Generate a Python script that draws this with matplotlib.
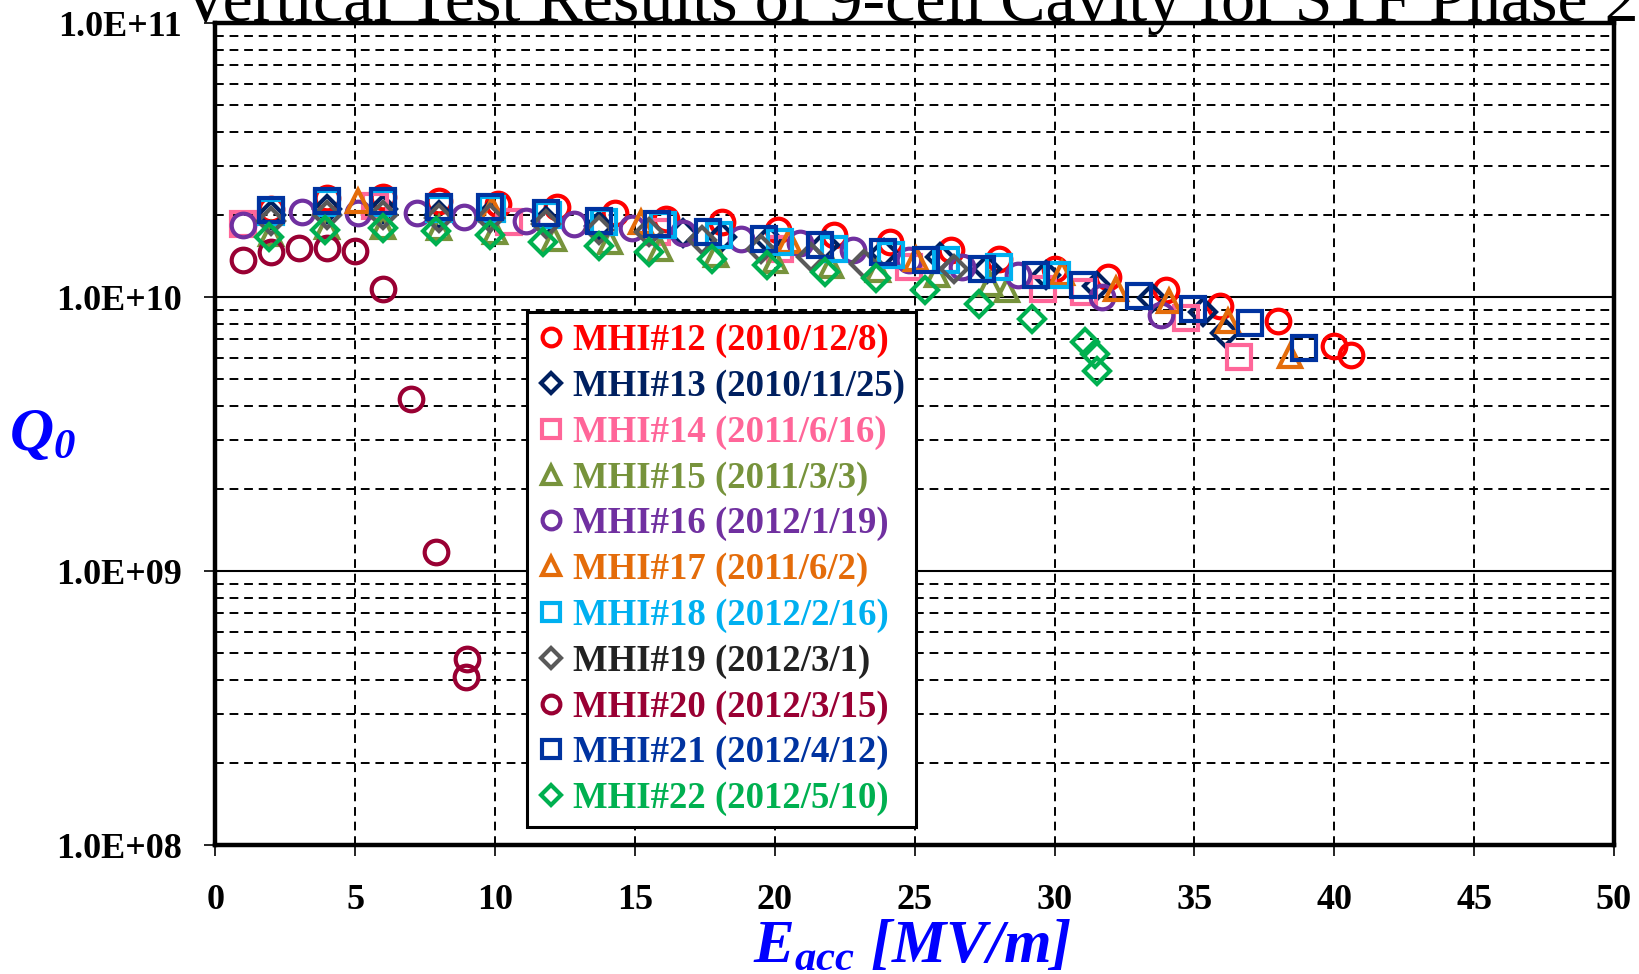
import matplotlib
matplotlib.use("Agg")
import matplotlib.pyplot as plt
from matplotlib.ticker import FixedLocator, LogLocator, NullFormatter

plt.rcParams['mathtext.fontset'] = 'custom'
plt.rcParams['mathtext.rm'] = 'Liberation Serif:italic:bold'
plt.rcParams['mathtext.it'] = 'Liberation Serif:italic:bold'
plt.rcParams['mathtext.bf'] = 'Liberation Serif:italic:bold'

labels = ["MHI#12 (2010/12/8)", "MHI#13 (2010/11/25)", "MHI#14 (2011/6/16)",
          "MHI#15 (2011/3/3)", "MHI#16 (2012/1/19)", "MHI#17 (2011/6/2)",
          "MHI#18 (2012/2/16)", "MHI#19 (2012/3/1)", "MHI#20 (2012/3/15)",
          "MHI#21 (2012/4/12)", "MHI#22 (2012/5/10)"]
colors = ["#FF0000", "#002060", "#FF6699", "#77933C", "#7030A0", "#E46C0A",
          "#00B0F0", "#595959", "#990033", "#0033A0", "#00B050"]
text_colors = ["#FF0000", "#002060", "#FF6699", "#77933C", "#7030A0", "#E46C0A",
               "#00B0F0", "#222222", "#990033", "#0033A0", "#00B050"]
markers = ["o", "D", "s", "^", "o", "^", "s", "D", "o", "s", "D"]

e12 = [2.0, 4.0, 6.0, 8.0, 10.1, 12.2, 14.3, 16.1, 18.1, 20.1, 22.1, 24.1, 26.3, 28.0, 30.0, 31.9, 34.0, 35.9, 38.0, 40.0, 40.6]
q12 = [2.1e10, 2.29e10, 2.32e10, 2.25e10, 2.19e10, 2.13e10, 2.02e10, 1.93e10, 1.88e10, 1.75e10, 1.68e10, 1.59e10, 1.48e10, 1.38e10, 1.27e10, 1.18e10, 1.06e10, 9.3e9, 8.15e9, 6.61e9, 6.16e9]

e13 = [2.0, 4.0, 6.0, 8.0, 9.8, 11.8, 13.7, 16.7, 18.1, 19.8, 21.8, 23.9, 25.9, 27.6, 29.7, 31.5, 33.5, 35.3, 36.1]
q13 = [2.0e10, 2.1e10, 2.1e10, 2.0e10, 2.0e10, 1.9e10, 1.82e10, 1.71e10, 1.66e10, 1.61e10, 1.55e10, 1.45e10, 1.40e10, 1.27e10, 1.2e10, 1.1e10, 9.9e9, 8.8e9, 7.4e9]

e14 = [1.0, 5.7, 10.5, 15.8, 20.2, 24.8, 29.6, 31.05, 34.7, 36.6]
q14 = [1.85e10, 2.15e10, 1.88e10, 1.73e10, 1.5e10, 1.29e10, 1.07e10, 1.04e10, 8.4e9, 6.04e9]

e15 = [2.0, 4.0, 6.0, 8.0, 10.0, 12.1, 14.1, 15.9, 17.9, 20.0, 22.0, 23.7, 25.8, 27.7, 28.3]
q15 = [1.7e10, 1.8e10, 1.8e10, 1.78e10, 1.72e10, 1.63e10, 1.59e10, 1.5e10, 1.42e10, 1.35e10, 1.3e10, 1.25e10, 1.2e10, 1.12e10, 1.06e10]

e16 = [1.0, 3.1, 5.1, 7.2, 8.9, 11.1, 12.8, 14.9, 16.7, 18.8, 20.9, 22.8, 24.8, 26.7, 28.7, 31.7, 33.8]
q16 = [1.83e10, 2.05e10, 2.02e10, 2.02e10, 1.96e10, 1.9e10, 1.85e10, 1.78e10, 1.71e10, 1.63e10, 1.57e10, 1.48e10, 1.36e10, 1.29e10, 1.2e10, 1.0e10, 8.6e9]

e17 = [5.1, 9.9, 15.2, 20.5, 25.05, 30.25, 32.2, 34.1, 36.2, 38.4]
q17 = [2.25e10, 2.1e10, 1.88e10, 1.6e10, 1.38e10, 1.22e10, 1.07e10, 9.7e9, 8.2e9, 6.1e9]

e18 = [2.0, 4.0, 6.0, 8.0, 9.9, 11.9, 13.9, 16.0, 18.0, 20.2, 22.1, 24.15, 26.1, 28.0, 30.1]
q18 = [2.05e10, 2.2e10, 2.2e10, 2.1e10, 2.1e10, 2.0e10, 1.88e10, 1.83e10, 1.68e10, 1.59e10, 1.5e10, 1.42e10, 1.36e10, 1.29e10, 1.2e10]

e19 = [2.0, 4.0, 6.0, 8.0, 9.8, 11.8, 13.7, 15.5, 17.4, 19.5, 21.3, 23.2, 26.4]
q19 = [1.9e10, 2.0e10, 2.0e10, 1.95e10, 1.95e10, 1.85e10, 1.75e10, 1.73e10, 1.61e10, 1.5e10, 1.4e10, 1.32e10, 1.27e10]

e20 = [1.0, 2.0, 3.0, 4.0, 5.0, 6.0, 7.0, 7.9, 9.0, 8.95]
q20 = [1.37e10, 1.46e10, 1.51e10, 1.51e10, 1.47e10, 1.07e10, 4.24e9, 1.17e9, 4.78e8, 4.1e8]

e21 = [2.0, 4.0, 6.0, 8.0, 9.8, 11.8, 13.7, 15.8, 17.6, 19.6, 21.6, 23.85, 25.4, 27.4, 29.35, 31.0, 33.0, 34.95, 37.0, 38.9]
q21 = [2.07e10, 2.24e10, 2.24e10, 2.13e10, 2.13e10, 2.02e10, 1.9e10, 1.85e10, 1.73e10, 1.63e10, 1.55e10, 1.46e10, 1.36e10, 1.27e10, 1.2e10, 1.11e10, 1.01e10, 9.07e9, 8.04e9, 6.53e9]

e22 = [1.9, 3.9, 6.0, 7.9, 9.8, 11.7, 13.7, 15.5, 17.75, 19.7, 21.8, 23.6, 25.35, 27.3, 29.2, 31.1, 31.46, 31.52]
q22 = [1.65e10, 1.75e10, 1.78e10, 1.74e10, 1.68e10, 1.59e10, 1.53e10, 1.46e10, 1.38e10, 1.31e10, 1.23e10, 1.17e10, 1.06e10, 9.46e9, 8.34e9, 6.86e9, 6.21e9, 5.36e9]

series_x = [e12, e13, e14, e15, e16, e17, e18, e19, e20, e21, e22]
series_y = [q12, q13, q14, q15, q16, q17, q18, q19, q20, q21, q22]

x_ticks = [0, 5, 10, 15, 20, 25, 30, 35, 40, 45, 50]
y_ticks = [1e8, 1e9, 1e10, 1e11]
y_ticklabels = ["1.0E+08", "1.0E+09", "1.0E+10", "1.0E+11"]

title = "Vertical Test Results of 9-cell Cavity for STF Phase 2"

W, H = 1640, 974
fig = plt.figure(figsize=(W / 100, H / 100), dpi=100)
ax = fig.add_axes([215.5 / W, 1 - 845 / H, (1614 - 215.5) / W, (845 - 23) / H])
ax.set_yscale('log')
ax.set_xlim(0, 50)
ax.set_ylim(1e8, 1e11)

msize = {"o": 17, "s": 17, "D": 13.5, "^": 16.5}
for xs, ys, c, m, lab in zip(series_x, series_y, colors, markers, labels):
    ax.plot(xs, ys, linestyle='none', marker=m, markersize=msize[m],
            markerfacecolor='none', markeredgecolor=c, markeredgewidth=3.0,
            label=lab, zorder=3)

tickfont = dict(family='Liberation Serif', weight='bold', size=26)
ax.xaxis.set_major_locator(FixedLocator(x_ticks))
ax.set_xticklabels([str(v) for v in x_ticks], fontdict=tickfont)
ax.yaxis.set_major_locator(FixedLocator(y_ticks))
ax.set_yticklabels(y_ticklabels, fontdict=tickfont)
ax.yaxis.set_minor_locator(LogLocator(base=10, subs=[2, 3, 4, 5, 6, 7, 8, 9]))
ax.yaxis.set_minor_formatter(NullFormatter())
ax.tick_params(axis='x', which='major', direction='out', length=8, width=1.2, pad=20)
ax.tick_params(axis='y', which='major', direction='out', length=8, width=1.2, pad=16)
ax.tick_params(axis='y', which='minor', length=0)

ax.grid(True, axis='y', which='major', color='black', linestyle='-', linewidth=1.5, zorder=1)
ax.grid(True, axis='y', which='minor', color='black', linestyle=(0, (4.5, 3)), linewidth=1.4, zorder=1)
ax.grid(True, axis='x', which='major', color='black', linestyle=(0, (4.5, 3)), linewidth=1.4, zorder=1)
ax.set_axisbelow(True)
for s in ax.spines.values():
    s.set_linewidth(3.2)
    s.set_color('black')

leg = ax.legend(loc='upper left', bbox_to_anchor=(0.2227, 0.6484), borderaxespad=0,
                prop=dict(family='Liberation Serif', weight='bold', size=26.5),
                labelcolor=text_colors, frameon=True, fancybox=False,
                edgecolor='black', framealpha=1, handlelength=0.7,
                handletextpad=0.25, labelspacing=0.29, borderpad=0.3,
                markerscale=0.75)
leg.get_frame().set_linewidth(2.2)
leg.set_zorder(5)

fig.text(0.555, 1 - 21 / H, title, ha='center', va='baseline',
         family='Liberation Serif', size=49)
fig.text(42 / W, 1 - 450 / H, r'$Q_{0}$', ha='center', va='baseline',
         color='#0000FF', size=44)
fig.text(0.556, 1 - 962 / H, r'$E_{acc}\ [MV/m]$', ha='center', va='baseline',
         color='#0000FF', size=44)

fig.savefig('out.png', dpi=100)
